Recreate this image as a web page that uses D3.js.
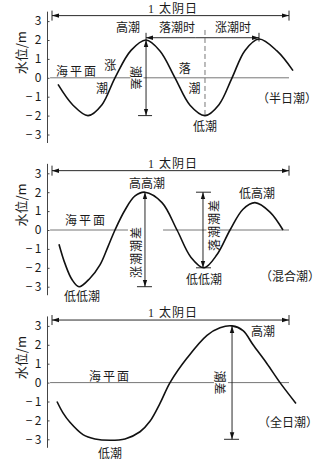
<!DOCTYPE html>
<html><head><meta charset="utf-8">
<script src="https://cdn.jsdelivr.net/npm/d3@7/dist/d3.min.js"></script>
<style>
html,body{margin:0;padding:0;background:#fff;}
svg{display:block;}
text{font-family:"Noto Sans CJK SC","Liberation Serif",serif;fill:#1a1a1a;}
</style></head>
<body>
<svg id="c" width="330" height="469"></svg>
<script>
// ---- data (time in hours within one lunar day, water level in m) ----
const yTicks = [3, 2, 1, 0, -1, -2, -3];
const lunarDayLabel = "1 太阴日";
const yLabel = "水位/m";

const semiHours  = [0.63, 2.20, 3.77, 5.23, 6.59, 8.27, 9.84, 11.30, 12.87, 14.44, 16.01, 17.47, 18.84, 20.20, 21.66, 23.54, 25.22];
const semiLevel  = [-0.35, -1.45, -2.0, -1.42, 0, 1.45, 2.0, 1.42, 0, -1.45, -2.0, -1.42, 0, 1.45, 2.05, 1.42, 0.38];

const mixedHours = [0.73, 1.36, 2.09, 2.83, 3.98, 5.02, 5.86, 6.59, 7.64, 8.69, 9.73, 11.51, 13.08, 14.55, 15.91, 17.27, 18.63, 19.99, 21.24, 22.81, 24.17];
const mixedLevel = [-0.75, -1.78, -2.62, -3.0, -2.55, -1.85, -0.88, 0, 1.06, 1.8, 2.0, 1.45, 0, -1.45, -2.0, -1.3, 0, 1.1, 1.45, 0.95, 0];

const diurHours  = [0.52, 1.15, 1.88, 3.24, 4.50, 6.07, 7.64, 9.21, 10.25, 11.30, 12.35, 14.13, 16.22, 17.58, 18.84, 19.99, 21.04, 22.50, 23.86, 25.53];
const diurLevel  = [-1.0, -1.6, -2.1, -2.75, -2.98, -3.05, -2.98, -2.6, -2.05, -1.1, 0, 1.3, 2.5, 2.9, 3.0, 2.75, 2.0, 1.0, 0, -1.1];

const panelTypes = ["（半日潮）", "（混合潮）", "（全日潮）"];

// ---- layout ----
const svg = d3.select("#c");
const x = d3.scaleLinear().domain([0, 24.8]).range([52, 289]);
const unit = 18.9;
const zeros = [77.8, 230, 382.6];
const dayArrowLevel = [3.29, 3.14, 3.31];

const defs = svg.append("defs");
defs.append("marker").attr("id", "ah")
  .attr("viewBox", "0 0 10 10").attr("refX", 10).attr("refY", 5)
  .attr("markerWidth", 7).attr("markerHeight", 7)
  .attr("markerUnits", "userSpaceOnUse").attr("orient", "auto-start-reverse")
  .append("path").attr("d", "M0,1.8 L10,5 L0,8.2 Z").attr("fill", "#111");

const series = [
  {hours: semiHours, level: semiLevel},
  {hours: mixedHours, level: mixedLevel},
  {hours: diurHours, level: diurLevel}
];

function arrow(g, x1, y1, x2, y2, both) {
  const l = g.append("line").attr("x1", x1).attr("y1", y1).attr("x2", x2).attr("y2", y2)
    .attr("stroke", "#111").attr("stroke-width", 0.9).attr("marker-end", "url(#ah)");
  if (both) l.attr("marker-start", "url(#ah)");
  return l;
}
function seg(g, x1, y1, x2, y2, color, w) {
  return g.append("line").attr("x1", x1).attr("y1", y1).attr("x2", x2).attr("y2", y2)
    .attr("stroke", color || "#111").attr("stroke-width", w || 0.9);
}
function label(g, px, py, t, size, rot) {
  const tx = g.append("text").attr("text-anchor", "middle").attr("dominant-baseline", "central")
    .attr("font-size", size || 12).text(t);
  if (rot) tx.attr("transform", `translate(${px},${py}) rotate(${rot})`);
  else tx.attr("x", px).attr("y", py);
  return tx;
}
function whiteBox(g, cx, cy, w, h) {
  g.append("rect").attr("x", cx - w / 2).attr("y", cy - h / 2).attr("width", w).attr("height", h).attr("fill", "#fff");
}

series.forEach((s, i) => {
  const z = zeros[i];
  const y = d3.scaleLinear().domain([-3, 3]).range([z + 3 * unit, z - 3 * unit]);
  const g = svg.append("g");

  // mean sea level line
  const gZero = g.append("g");
  if (i === 1) {
    seg(gZero, x(-0.2), y(0), x(7.95), y(0), "#777", 1);
    seg(gZero, x(11.62), y(0), x(24.8), y(0), "#777", 1);
  } else {
    seg(gZero, x(-0.2), y(0), x(24.8), y(0), "#777", 1);
  }

  // y axis
  seg(g, 47.5, z - 3.5 * unit, 47.5, z + 3.45 * unit, "#444", 1);
  const ax = g.append("g").attr("transform", "translate(47.5,0)")
    .call(d3.axisLeft(y).tickValues(yTicks).tickSize(-2).tickPadding(6)
      .tickFormat(d => d < 0 ? "\u2212\u2009" + Math.abs(d) : String(d)));
  ax.select(".domain").remove();
  ax.selectAll("line").attr("stroke", "#444");
  ax.selectAll("text").attr("font-family", "'Liberation Serif',serif").attr("font-size", 12).attr("fill", "#222");

  // y label
  label(g, 20, z - 25, yLabel, 13, -90);

  // lunar day arrow
  const ya = y(dayArrowLevel[i]);
  arrow(g, x(0), ya, x(24.8), ya, true);
  seg(g, x(0), ya - 5, x(0), ya + 5);
  seg(g, x(24.8), ya - 5, x(24.8), ya + 5);
  const tt = g.append("text").attr("x", 173).attr("y", ya - 3).attr("text-anchor", "middle")
    .attr("font-size", 12).attr("letter-spacing", 1);
  tt.append("tspan").attr("font-family", "'Liberation Serif',serif").text(lunarDayLabel.split(" ")[0] + " ");
  tt.append("tspan").text(lunarDayLabel.split(" ")[1]);

  // annotations
  const A = g.append("g");
  if (i === 0) {
    whiteBox(A, x(8.89), y(0), 13, 28);
    label(A, x(8.89), y(0), "潮差", 12, 90);
    arrow(A, x(9.84), y(0), x(9.84), y(2.0), false);
    arrow(A, x(9.84), y(0), x(9.84), y(-2.0), false);
    seg(A, x(9.84), y(2.0), x(9.84), y(2.38));
    seg(A, x(9.84) - 8, y(-2.0), x(9.84) + 6, y(-2.0));
    arrow(A, x(15.0), y(2.12), x(9.84), y(2.12), false);
    arrow(A, x(15.0), y(2.12), x(21.66), y(2.12), false);
    seg(A, x(21.66), y(2.38), x(21.66), y(1.92));
    seg(A, x(16.01), y(2.53), x(16.01), y(-2.08), "#777", 1).attr("stroke-dasharray", "5,3");
    label(A, x(7.95), y(2.69), "高潮");
    label(A, x(13.08), y(2.69), "落潮时");
    label(A, x(18.94), y(2.69), "涨潮时");
    label(A, x(2.62), y(0.41), "海平面").attr("letter-spacing", 2);
    label(A, x(6.1), y(0.68), "涨");
    label(A, x(5.23), y(-0.49), "潮");
    label(A, x(13.9), y(0.57), "落");
    label(A, x(14.9), y(-0.49), "潮");
    label(A, x(16.01), y(-2.55), "低潮");
    label(A, x(24.59), y(-1.02), panelTypes[0]);
  } else if (i === 1) {
    label(A, x(8.69), y(-1.16), "涨潮潮差", 12, -90).attr("letter-spacing", 1);
    arrow(A, x(9.73), y(0), x(9.73), y(2.0), false);
    arrow(A, x(9.73), y(0), x(9.73), y(-3.0), false);
    seg(A, x(9.73) - 8, y(-3.0), x(9.73) + 7, y(-3.0));
    whiteBox(A, x(16.85), y(0), 13, 6);
    label(A, x(16.85), y(0.26), "落潮潮差", 12, -90).attr("letter-spacing", 1);
    arrow(A, x(15.80), y(0), x(15.80), y(2.0), false);
    arrow(A, x(15.80), y(0), x(15.80), y(-2.0), false);
    seg(A, x(15.80) - 7, y(2.0), x(15.80) + 8, y(2.0));
    seg(A, x(15.80) - 7, y(-2.0), x(15.80) + 8, y(-2.0));
    label(A, x(9.94), y(2.49), "高高潮");
    label(A, x(21.45), y(1.96), "低高潮");
    label(A, x(3.56), y(0.53), "海平面").attr("letter-spacing", 2);
    label(A, x(15.91), y(-2.54), "低低潮");
    label(A, x(3.14), y(-3.44), "低低潮");
    label(A, x(24.9), y(-2.43), panelTypes[1]);
  } else {
    whiteBox(A, x(17.68), y(0), 14, 28);
    label(A, x(17.68), y(0), "潮差", 12, 90);
    arrow(A, x(18.84), y(0), x(18.84), y(3.0), false);
    arrow(A, x(18.84), y(0), x(18.84), y(-3.0), false);
    seg(A, x(18.84) - 8, y(-3.0), x(18.84) + 7, y(-3.0));
    label(A, x(6.07), y(0.40), "海平面").attr("letter-spacing", 2);
    label(A, x(22.08), y(2.78), "高潮");
    label(A, x(6.07), y(-3.72), "低潮");
    label(A, x(24.7), y(-2.08), panelTypes[2]);
  }

  // tide curve
  const pts = s.hours.map((h, k) => [h, s.level[k]]);
  g.append("path").datum(pts)
    .attr("fill", "none").attr("stroke", "#111").attr("stroke-width", 1.6)
    .attr("d", d3.line().x(d => x(d[0])).y(d => y(d[1])).curve(d3.curveCatmullRom.alpha(0.5)));
});
</script>
</body></html>
